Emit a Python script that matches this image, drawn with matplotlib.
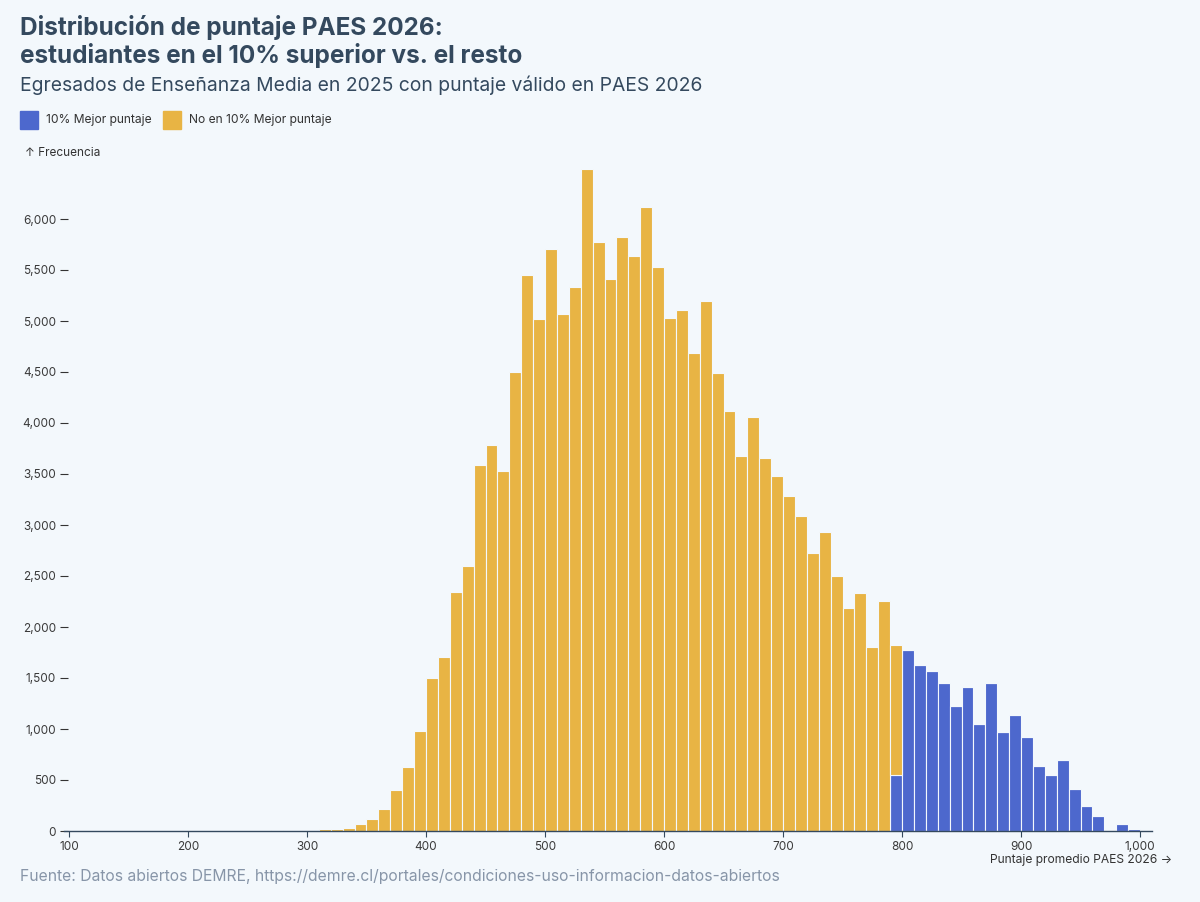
import matplotlib.pyplot as plt
import numpy as np
from matplotlib.patches import Rectangle

# bins de 10 puntos, desde 270 hasta 990
bin_start = list(range(270, 1000, 10))

resto = [8, 2, 3, 4, 15, 20, 30, 70, 120, 212,
         400, 632, 980, 1500, 1710, 2345, 2595, 3585, 3780, 3525,
         4503, 5451, 5023, 5703, 5069, 5337, 6487, 5771, 5409, 5820,
         5634, 6115, 5529, 5033, 5111, 4686, 5196, 4490, 4118, 3676,
         4056, 3660, 3480, 3284, 3088, 2722, 2928, 2497, 2183, 2330,
         1801, 2258, 1272, 0, 0, 0, 0, 0, 0, 0,
         0, 0, 0, 0, 0, 0, 0, 0, 0, 0,
         0, 0, 0]

top10 = [0] * 52 + [552, 1771, 1627, 1572, 1454, 1225, 1412, 1049, 1448, 974,
                    1137, 921, 640, 549, 699, 415, 248, 147, 0, 72, 20]

y_ticks = list(range(0, 6001, 500))
x_ticks = list(range(100, 1001, 100))

bg = '#f3f8fc'
azul = '#4d68cd'
amarillo = '#e8b444'
texto = '#34495e'

plt.rcParams['font.family'] = ['Inter', 'DejaVu Sans']

fig = plt.figure(figsize=(12, 9.02), dpi=100)
fig.patch.set_facecolor(bg)

ax = fig.add_axes([64.2 / 1200, 71 / 902, 1087.8 / 1200, 663 / 902])
ax.set_facecolor(bg)

x = np.array(bin_start)
ax.bar(x, top10, width=10, align='edge', color=azul, edgecolor=bg, linewidth=0.8)
ax.bar(x, resto, width=10, align='edge', bottom=top10, color=amarillo, edgecolor=bg, linewidth=0.8)

ax.set_xlim(96, 1010)
ax.set_ylim(0, 6500)

for s in ['top', 'right', 'left']:
    ax.spines[s].set_visible(False)
ax.spines['bottom'].set_color(texto)
ax.spines['bottom'].set_linewidth(1)

ax.set_yticks(y_ticks)
ax.set_yticklabels([f'{v:,}' for v in y_ticks])
ax.set_xticks(x_ticks)
ax.set_xticklabels([f'{v:,}' for v in x_ticks])
ax.tick_params(axis='y', direction='inout', length=5.8, width=0.8, color='#333333',
               labelsize=8.5, labelcolor='#3a3a3a', pad=3)
ax.tick_params(axis='x', direction='out', length=4.3, width=0.8, color=texto,
               labelsize=8.5, labelcolor='#3a3a3a', pad=3)

fig.text(20 / 1200, 1 - 35 / 902, 'Distribución de puntaje PAES 2026:', fontsize=17.5,
         fontweight='bold', color=texto, va='baseline')
fig.text(20 / 1200, 1 - 63 / 902, 'estudiantes en el 10% superior vs. el resto', fontsize=17.5,
         fontweight='bold', color=texto, va='baseline')
fig.text(20 / 1200, 1 - 90.7 / 902, 'Egresados de Enseñanza Media en 2025 con puntaje válido en PAES 2026',
         fontsize=13.9, color=texto, va='baseline')

# leyenda
fig.patches.append(Rectangle((20 / 1200, 1 - 129 / 902), 18 / 1200, 18 / 902,
                             transform=fig.transFigure, color=azul))
fig.text(46 / 1200, 1 - 120 / 902, '10% Mejor puntaje', fontsize=8.7, color='#333333', va='center')
fig.patches.append(Rectangle((163 / 1200, 1 - 129 / 902), 18 / 1200, 18 / 902,
                             transform=fig.transFigure, color=amarillo))
fig.text(189 / 1200, 1 - 120 / 902, 'No en 10% Mejor puntaje', fontsize=8.7, color='#333333', va='center')

fig.text(25 / 1200, 1 - 153 / 902, '↑ Frecuencia', fontsize=8.5, color='#333333', va='center')
fig.text(1172 / 1200, 1 - 860 / 902, 'Puntaje promedio PAES 2026 →', fontsize=8.7, color='#333333',
         va='center', ha='right')

fig.text(20 / 1200, 1 - 877 / 902,
         'Fuente: Datos abiertos DEMRE, https://demre.cl/portales/condiciones-uso-informacion-datos-abiertos',
         fontsize=11.3, color='#8795a8', va='center')

fig.savefig('out.png', dpi=100, facecolor=bg)
